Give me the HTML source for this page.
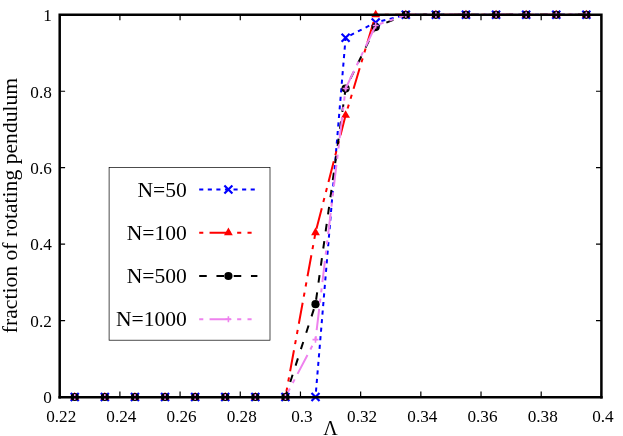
<!DOCTYPE html>
<html><head><meta charset="utf-8"><title>fraction of rotating pendulum</title>
<style>
html,body{margin:0;padding:0;background:#fff;}
svg{display:block;will-change:transform;filter:opacity(1);font-family:"Liberation Serif",serif;}
text{fill:#000;}
</style></head>
<body>
<svg width="623" height="436" viewBox="0 0 623 436">
<rect x="0" y="0" width="623" height="436" fill="#ffffff"/>
<rect x="109.1" y="167.5" width="160.9" height="172.7" fill="#ffffff" stroke="#000" stroke-width="0.7"/>
<polyline points="74.75,397.00 104.84,397.00 134.94,397.00 165.03,397.00 195.12,397.00 225.22,397.00 255.31,397.00 285.41,397.00 315.50,397.00 345.60,37.73 375.69,22.44 405.79,14.80 435.88,14.80 465.97,14.80 496.07,14.80 526.16,14.80 556.26,14.80 586.35,14.80" fill="none" stroke="#0000ff" stroke-width="2.0" stroke-dasharray="4.10 4.48" stroke-dashoffset="11.2" stroke-linejoin="miter"/>
<path d="M70.75 393.00L78.75 401.00M70.75 401.00L78.75 393.00" stroke="#0000ff" stroke-width="2.2" fill="none"/>
<path d="M100.84 393.00L108.84 401.00M100.84 401.00L108.84 393.00" stroke="#0000ff" stroke-width="2.2" fill="none"/>
<path d="M130.94 393.00L138.94 401.00M130.94 401.00L138.94 393.00" stroke="#0000ff" stroke-width="2.2" fill="none"/>
<path d="M161.03 393.00L169.03 401.00M161.03 401.00L169.03 393.00" stroke="#0000ff" stroke-width="2.2" fill="none"/>
<path d="M191.12 393.00L199.12 401.00M191.12 401.00L199.12 393.00" stroke="#0000ff" stroke-width="2.2" fill="none"/>
<path d="M221.22 393.00L229.22 401.00M221.22 401.00L229.22 393.00" stroke="#0000ff" stroke-width="2.2" fill="none"/>
<path d="M251.31 393.00L259.31 401.00M251.31 401.00L259.31 393.00" stroke="#0000ff" stroke-width="2.2" fill="none"/>
<path d="M281.41 393.00L289.41 401.00M281.41 401.00L289.41 393.00" stroke="#0000ff" stroke-width="2.2" fill="none"/>
<path d="M311.50 393.00L319.50 401.00M311.50 401.00L319.50 393.00" stroke="#0000ff" stroke-width="2.2" fill="none"/>
<path d="M341.60 33.73L349.60 41.73M341.60 41.73L349.60 33.73" stroke="#0000ff" stroke-width="2.2" fill="none"/>
<path d="M371.69 18.44L379.69 26.44M371.69 26.44L379.69 18.44" stroke="#0000ff" stroke-width="2.2" fill="none"/>
<path d="M401.79 10.80L409.79 18.80M401.79 18.80L409.79 10.80" stroke="#0000ff" stroke-width="2.2" fill="none"/>
<path d="M431.88 10.80L439.88 18.80M431.88 18.80L439.88 10.80" stroke="#0000ff" stroke-width="2.2" fill="none"/>
<path d="M461.97 10.80L469.97 18.80M461.97 18.80L469.97 10.80" stroke="#0000ff" stroke-width="2.2" fill="none"/>
<path d="M492.07 10.80L500.07 18.80M492.07 18.80L500.07 10.80" stroke="#0000ff" stroke-width="2.2" fill="none"/>
<path d="M522.16 10.80L530.16 18.80M522.16 18.80L530.16 10.80" stroke="#0000ff" stroke-width="2.2" fill="none"/>
<path d="M552.26 10.80L560.26 18.80M552.26 18.80L560.26 10.80" stroke="#0000ff" stroke-width="2.2" fill="none"/>
<path d="M582.35 10.80L590.35 18.80M582.35 18.80L590.35 10.80" stroke="#0000ff" stroke-width="2.2" fill="none"/>
<polyline points="74.75,397.00 104.84,397.00 134.94,397.00 165.03,397.00 195.12,397.00 225.22,397.00 255.31,397.00 285.41,397.00 315.50,232.65 345.60,115.32 375.69,14.80 405.79,14.80 435.88,14.80 465.97,14.80 496.07,14.80 526.16,14.80 556.26,14.80 586.35,14.80" fill="none" stroke="#ff0000" stroke-width="2.0" stroke-dasharray="4.100 6.250 21.350 6.250 4.100 6.250" stroke-dashoffset="15.05" stroke-linejoin="miter"/>
<path d="M74.75 391.90L79.15 399.50L70.35 399.50Z" fill="#ff0000"/>
<path d="M104.84 391.90L109.24 399.50L100.44 399.50Z" fill="#ff0000"/>
<path d="M134.94 391.90L139.34 399.50L130.54 399.50Z" fill="#ff0000"/>
<path d="M165.03 391.90L169.43 399.50L160.63 399.50Z" fill="#ff0000"/>
<path d="M195.12 391.90L199.53 399.50L190.72 399.50Z" fill="#ff0000"/>
<path d="M225.22 391.90L229.62 399.50L220.82 399.50Z" fill="#ff0000"/>
<path d="M255.31 391.90L259.71 399.50L250.91 399.50Z" fill="#ff0000"/>
<path d="M285.41 391.90L289.81 399.50L281.01 399.50Z" fill="#ff0000"/>
<path d="M315.50 227.55L319.90 235.15L311.10 235.15Z" fill="#ff0000"/>
<path d="M345.60 110.22L350.00 117.82L341.20 117.82Z" fill="#ff0000"/>
<path d="M375.69 9.70L380.09 17.30L371.29 17.30Z" fill="#ff0000"/>
<path d="M405.79 9.70L410.19 17.30L401.39 17.30Z" fill="#ff0000"/>
<path d="M435.88 9.70L440.28 17.30L431.48 17.30Z" fill="#ff0000"/>
<path d="M465.97 9.70L470.37 17.30L461.57 17.30Z" fill="#ff0000"/>
<path d="M496.07 9.70L500.47 17.30L491.67 17.30Z" fill="#ff0000"/>
<path d="M526.16 9.70L530.56 17.30L521.76 17.30Z" fill="#ff0000"/>
<path d="M556.26 9.70L560.66 17.30L551.86 17.30Z" fill="#ff0000"/>
<path d="M586.35 9.70L590.75 17.30L581.95 17.30Z" fill="#ff0000"/>
<polyline points="74.75,397.00 104.84,397.00 134.94,397.00 165.03,397.00 195.12,397.00 225.22,397.00 255.31,397.00 285.41,397.00 315.50,304.13 345.60,88.56 375.69,27.03 405.79,14.80 435.88,14.80 465.97,14.80 496.07,14.80 526.16,14.80 556.26,14.80 586.35,14.80" fill="none" stroke="#000000" stroke-width="2.0" stroke-dasharray="7.550 9.700" stroke-dashoffset="15.05" stroke-linejoin="miter"/>
<circle cx="74.75" cy="397.00" r="4.1" fill="#000000"/>
<circle cx="104.84" cy="397.00" r="4.1" fill="#000000"/>
<circle cx="134.94" cy="397.00" r="4.1" fill="#000000"/>
<circle cx="165.03" cy="397.00" r="4.1" fill="#000000"/>
<circle cx="195.12" cy="397.00" r="4.1" fill="#000000"/>
<circle cx="225.22" cy="397.00" r="4.1" fill="#000000"/>
<circle cx="255.31" cy="397.00" r="4.1" fill="#000000"/>
<circle cx="285.41" cy="397.00" r="4.1" fill="#000000"/>
<circle cx="315.50" cy="304.13" r="4.1" fill="#000000"/>
<circle cx="345.60" cy="88.56" r="4.1" fill="#000000"/>
<circle cx="375.69" cy="27.03" r="4.1" fill="#000000"/>
<circle cx="405.79" cy="14.80" r="4.1" fill="#000000"/>
<circle cx="435.88" cy="14.80" r="4.1" fill="#000000"/>
<circle cx="465.97" cy="14.80" r="4.1" fill="#000000"/>
<circle cx="496.07" cy="14.80" r="4.1" fill="#000000"/>
<circle cx="526.16" cy="14.80" r="4.1" fill="#000000"/>
<circle cx="556.26" cy="14.80" r="4.1" fill="#000000"/>
<circle cx="586.35" cy="14.80" r="4.1" fill="#000000"/>
<polyline points="74.75,397.00 104.84,397.00 134.94,397.00 165.03,397.00 195.12,397.00 225.22,397.00 255.31,397.00 285.41,397.00 315.50,339.67 345.60,88.56 375.69,25.50 405.79,14.80 435.88,14.80 465.97,14.80 496.07,14.80 526.16,14.80 556.26,14.80 586.35,14.80" fill="none" stroke="#ee82ee" stroke-width="2.0" stroke-dasharray="4.100 6.250 21.350 6.250 4.100 6.250" stroke-dashoffset="15.05" stroke-linejoin="miter"/>
<path d="M71.75 397.00H77.75M74.75 394.00V400.00" stroke="#ee82ee" stroke-width="1.6" fill="none"/>
<path d="M101.84 397.00H107.84M104.84 394.00V400.00" stroke="#ee82ee" stroke-width="1.6" fill="none"/>
<path d="M131.94 397.00H137.94M134.94 394.00V400.00" stroke="#ee82ee" stroke-width="1.6" fill="none"/>
<path d="M162.03 397.00H168.03M165.03 394.00V400.00" stroke="#ee82ee" stroke-width="1.6" fill="none"/>
<path d="M192.12 397.00H198.12M195.12 394.00V400.00" stroke="#ee82ee" stroke-width="1.6" fill="none"/>
<path d="M222.22 397.00H228.22M225.22 394.00V400.00" stroke="#ee82ee" stroke-width="1.6" fill="none"/>
<path d="M252.31 397.00H258.31M255.31 394.00V400.00" stroke="#ee82ee" stroke-width="1.6" fill="none"/>
<path d="M282.41 397.00H288.41M285.41 394.00V400.00" stroke="#ee82ee" stroke-width="1.6" fill="none"/>
<path d="M312.50 339.67H318.50M315.50 336.67V342.67" stroke="#ee82ee" stroke-width="1.6" fill="none"/>
<path d="M342.60 88.56H348.60M345.60 85.56V91.56" stroke="#ee82ee" stroke-width="1.6" fill="none"/>
<path d="M372.69 25.50H378.69M375.69 22.50V28.50" stroke="#ee82ee" stroke-width="1.6" fill="none"/>
<path d="M402.79 14.80H408.79M405.79 11.80V17.80" stroke="#ee82ee" stroke-width="1.6" fill="none"/>
<path d="M432.88 14.80H438.88M435.88 11.80V17.80" stroke="#ee82ee" stroke-width="1.6" fill="none"/>
<path d="M462.97 14.80H468.97M465.97 11.80V17.80" stroke="#ee82ee" stroke-width="1.6" fill="none"/>
<path d="M493.07 14.80H499.07M496.07 11.80V17.80" stroke="#ee82ee" stroke-width="1.6" fill="none"/>
<path d="M523.16 14.80H529.16M526.16 11.80V17.80" stroke="#ee82ee" stroke-width="1.6" fill="none"/>
<path d="M553.26 14.80H559.26M556.26 11.80V17.80" stroke="#ee82ee" stroke-width="1.6" fill="none"/>
<path d="M583.35 14.80H589.35M586.35 11.80V17.80" stroke="#ee82ee" stroke-width="1.6" fill="none"/>
<line x1="199.2" y1="189.5" x2="257.4" y2="189.5" stroke="#0000ff" stroke-width="2.0" stroke-dasharray="4.10 4.48"/>
<path d="M224.40 185.50L232.40 193.50M224.40 193.50L232.40 185.50" stroke="#0000ff" stroke-width="2.2" fill="none"/>
<text x="186.9" y="196.6" text-anchor="end" font-size="21.6">N=50</text>
<line x1="199.2" y1="232.7" x2="257.4" y2="232.7" stroke="#ff0000" stroke-width="2.0" stroke-dasharray="4.100 6.250 21.350 6.250 4.100 6.250"/>
<path d="M228.40 227.60L232.80 235.20L224.00 235.20Z" fill="#ff0000"/>
<text x="186.9" y="239.8" text-anchor="end" font-size="21.6">N=100</text>
<line x1="199.2" y1="276.0" x2="257.4" y2="276.0" stroke="#000000" stroke-width="2.0" stroke-dasharray="7.550 9.700"/>
<circle cx="228.40" cy="276.00" r="4.1" fill="#000000"/>
<text x="186.9" y="283.1" text-anchor="end" font-size="21.6">N=500</text>
<line x1="199.2" y1="319.2" x2="257.4" y2="319.2" stroke="#ee82ee" stroke-width="2.0" stroke-dasharray="4.100 6.250 21.350 6.250 4.100 6.250"/>
<path d="M225.40 319.20H231.40M228.40 316.20V322.20" stroke="#ee82ee" stroke-width="1.6" fill="none"/>
<text x="186.9" y="326.3" text-anchor="end" font-size="21.6">N=1000</text>
<path d="M59.70 397.0V391.6M59.70 14.8V20.200000000000003" stroke="#000" stroke-width="1.2"/>
<path d="M119.89 397.0V391.6M119.89 14.8V20.200000000000003" stroke="#000" stroke-width="1.2"/>
<path d="M180.08 397.0V391.6M180.08 14.8V20.200000000000003" stroke="#000" stroke-width="1.2"/>
<path d="M240.27 397.0V391.6M240.27 14.8V20.200000000000003" stroke="#000" stroke-width="1.2"/>
<path d="M300.46 397.0V391.6M300.46 14.8V20.200000000000003" stroke="#000" stroke-width="1.2"/>
<path d="M360.64 397.0V391.6M360.64 14.8V20.200000000000003" stroke="#000" stroke-width="1.2"/>
<path d="M420.83 397.0V391.6M420.83 14.8V20.200000000000003" stroke="#000" stroke-width="1.2"/>
<path d="M481.02 397.0V391.6M481.02 14.8V20.200000000000003" stroke="#000" stroke-width="1.2"/>
<path d="M541.21 397.0V391.6M541.21 14.8V20.200000000000003" stroke="#000" stroke-width="1.2"/>
<path d="M601.40 397.0V391.6M601.40 14.8V20.200000000000003" stroke="#000" stroke-width="1.2"/>
<path d="M59.7 397.00H65.10000000000001M601.4 397.00H596.0" stroke="#000" stroke-width="1.2"/>
<path d="M59.7 320.56H65.10000000000001M601.4 320.56H596.0" stroke="#000" stroke-width="1.2"/>
<path d="M59.7 244.12H65.10000000000001M601.4 244.12H596.0" stroke="#000" stroke-width="1.2"/>
<path d="M59.7 167.68H65.10000000000001M601.4 167.68H596.0" stroke="#000" stroke-width="1.2"/>
<path d="M59.7 91.24H65.10000000000001M601.4 91.24H596.0" stroke="#000" stroke-width="1.2"/>
<path d="M59.7 14.80H65.10000000000001M601.4 14.80H596.0" stroke="#000" stroke-width="1.2"/>
<path d="M59.7 398.4V14.8H601.4V398.4" fill="none" stroke="#000" stroke-width="2.5" stroke-linejoin="miter"/>
<path d="M58.45 397.2H602.65" fill="none" stroke="#000" stroke-width="2.4"/>
<text x="61.20" y="421.5" text-anchor="middle" font-size="17.2">0.22</text>
<text x="121.39" y="421.5" text-anchor="middle" font-size="17.2">0.24</text>
<text x="181.58" y="421.5" text-anchor="middle" font-size="17.2">0.26</text>
<text x="241.77" y="421.5" text-anchor="middle" font-size="17.2">0.28</text>
<text x="301.96" y="421.5" text-anchor="middle" font-size="17.2">0.3</text>
<text x="362.14" y="421.5" text-anchor="middle" font-size="17.2">0.32</text>
<text x="422.33" y="421.5" text-anchor="middle" font-size="17.2">0.34</text>
<text x="482.52" y="421.5" text-anchor="middle" font-size="17.2">0.36</text>
<text x="542.71" y="421.5" text-anchor="middle" font-size="17.2">0.38</text>
<text x="602.90" y="421.5" text-anchor="middle" font-size="17.2">0.4</text>
<text x="51.8" y="403.30" text-anchor="end" font-size="17.2">0</text>
<text x="51.8" y="326.86" text-anchor="end" font-size="17.2">0.2</text>
<text x="51.8" y="250.42" text-anchor="end" font-size="17.2">0.4</text>
<text x="51.8" y="173.98" text-anchor="end" font-size="17.2">0.6</text>
<text x="51.8" y="97.54" text-anchor="end" font-size="17.2">0.8</text>
<text x="51.8" y="21.10" text-anchor="end" font-size="17.2">1</text>
<text transform="translate(17.1 205.5) rotate(-90)" text-anchor="middle" font-size="21.65">fraction of rotating pendulum</text>
<text x="330.4" y="434.5" text-anchor="middle" font-size="22" textLength="14.5" lengthAdjust="spacingAndGlyphs">&#923;</text>
</svg>
</body></html>
